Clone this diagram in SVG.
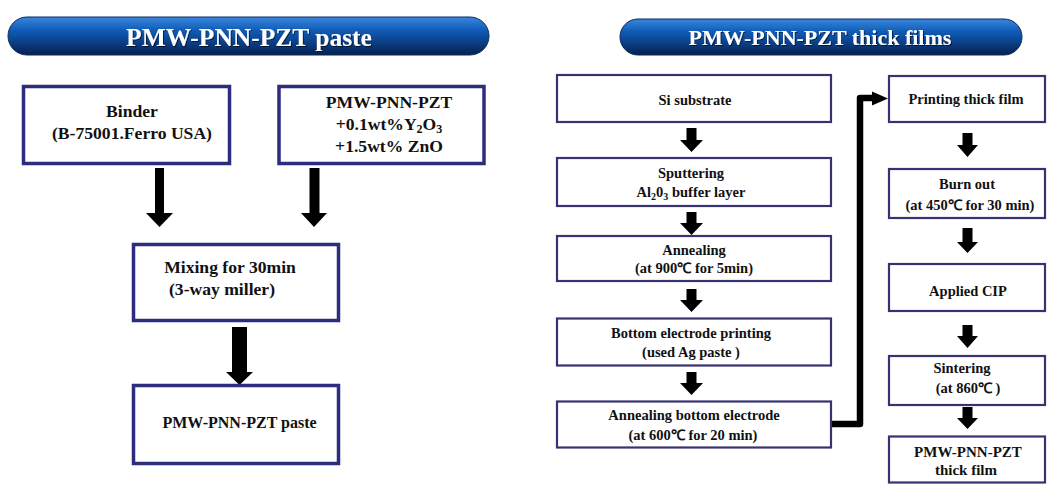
<svg xmlns="http://www.w3.org/2000/svg" width="1058" height="500" viewBox="0 0 1058 500">
<defs>
<linearGradient id="bannerGrad" x1="0" y1="0" x2="0" y2="1">
<stop offset="0" stop-color="#3a86dc"/>
<stop offset="0.35" stop-color="#0f5cb8"/>
<stop offset="1" stop-color="#06204f"/>
</linearGradient>
<filter id="shadow" x="-5%" y="-20%" width="110%" height="140%">
<feDropShadow dx="1" dy="1" stdDeviation="0.6" flood-color="#000" flood-opacity="0.6"/>
</filter>
</defs>
<style>
text{font-family:"Liberation Serif","Times New Roman",serif;font-weight:bold;fill:#111;text-anchor:middle}
.title{fill:#fff;font-size:25.5px}
.banner{fill:url(#bannerGrad);stroke:#0a2a5e;stroke-width:1}
.boxL{fill:#fff;stroke:#2e2c7c;stroke-width:3.5}
.boxR{fill:#fff;stroke:#363370;stroke-width:2.2}
.tl{font-size:17.6px}
.tr{font-size:14.5px}
.arrow{fill:#000}
.conn{fill:none;stroke:#000;stroke-width:6.5;stroke-linejoin:round}
</style>
<rect width="1058" height="500" fill="#fff"/>

<g id="banner-left">
<rect class="banner" x="8" y="17" width="481" height="38" rx="19"/>
<text class="title" x="249" y="46" filter="url(#shadow)">PMW-PNN-PZT paste</text>
</g>
<g id="banner-right">
<rect class="banner" x="620" y="19" width="402" height="36" rx="18"/>
<text class="title" x="820" y="45" style="font-size:22px" filter="url(#shadow)">PMW-PNN-PZT thick films</text>
</g>

<g id="connectors">
<polygon class="arrow" points="155,168 164,168 164,213 173,213 159.5,227 146,213 155,213"/>
<polygon class="arrow" points="309.5,168 319.5,168 319.5,213 327,213 314,227 301,213 309.5,213"/>
<polygon class="arrow" points="232,327 247,327 247,372 253,372 239.5,385 226,372 232,372"/>

<polygon class="arrow" points="686.5,128 696.5,128 696.5,140 703,140 691.5,152 680,140 686.5,140"/>
<polygon class="arrow" points="686.5,212 696.5,212 696.5,223 703,223 691.5,235 680,223 686.5,223"/>
<polygon class="arrow" points="686.5,289 696.5,289 696.5,300 703,300 691.5,312 680,300 686.5,300"/>
<polygon class="arrow" points="686.5,372 696.5,372 696.5,383 703,383 691.5,395 680,383 686.5,383"/>

<polygon class="arrow" points="962.5,133 972.5,133 972.5,145 978,145 967.5,157 957,145 962.5,145"/>
<polygon class="arrow" points="962.5,228 972.5,228 972.5,242 978,242 967.5,253 957,242 962.5,242"/>
<polygon class="arrow" points="962.5,325 972.5,325 972.5,336 978,336 967.5,348 957,336 962.5,336"/>
<polygon class="arrow" points="962.5,407 972.5,407 972.5,418 978,418 967.5,429 957,418 962.5,418"/>

<path class="conn" d="M832,424 H860 V98 H874"/>
<polygon class="arrow" points="872,91.5 888,98.5 872,105.5"/>
</g>

<g id="node-binder">
<rect class="boxL" x="23.5" y="86.5" width="206" height="77"/>
<text class="tl" x="132" y="117">Binder</text>
<text class="tl" x="132" y="139">(B-75001.Ferro USA)</text>
</g>
<g id="node-pmw">
<rect class="boxL" x="279" y="86.5" width="205" height="77"/>
<text class="tl" x="389" y="108">PMW-PNN-PZT</text>
<text class="tl" x="389" y="130">+0.1wt%Y<tspan font-size="12" dy="3">2</tspan><tspan dy="-3">O</tspan><tspan font-size="12" dy="3">3</tspan></text>
<text class="tl" x="389" y="152">+1.5wt% ZnO</text>
</g>
<g id="node-mixing">
<rect class="boxL" x="133.5" y="244.5" width="205" height="76"/>
<text class="tl" x="230" y="273">Mixing for 30min</text>
<text class="tl" x="222" y="295">(3-way miller)</text>
</g>
<g id="node-paste">
<rect class="boxL" x="133.5" y="385.5" width="205" height="78"/>
<text class="tl" x="239.5" y="428" style="font-size:16px">PMW-PNN-PZT paste</text>
</g>

<g id="node-si">
<rect class="boxR" x="557" y="75" width="274" height="47"/>
<text class="tr" x="695" y="105">Si substrate</text>
</g>
<g id="node-sputtering">
<rect class="boxR" x="557" y="158" width="274" height="48"/>
<text class="tr" x="691" y="178">Sputtering</text>
<text class="tr" x="691" y="197">Al<tspan font-size="10" dy="3">2</tspan><tspan dy="-3">0</tspan><tspan font-size="10" dy="3">3</tspan><tspan dy="-3"> buffer layer</tspan></text>
</g>
<g id="node-annealing">
<rect class="boxR" x="557" y="236" width="274" height="45"/>
<text class="tr" x="694" y="255">Annealing</text>
<text class="tr" x="694" y="273">(at  900℃ for 5min)</text>
</g>
<g id="node-bottom-electrode">
<rect class="boxR" x="557" y="318.5" width="274" height="47"/>
<text class="tr" x="691" y="338">Bottom electrode  printing</text>
<text class="tr" x="691" y="357">(used Ag paste )</text>
</g>
<g id="node-annealing-bottom">
<rect class="boxR" x="557" y="401.5" width="274" height="46"/>
<text class="tr" x="694" y="420">Annealing bottom electrode</text>
<text class="tr" x="693" y="440">(at  600℃ for 20 min)</text>
</g>

<g id="node-printing">
<rect class="boxR" x="889" y="76" width="156" height="46"/>
<text class="tr" x="966" y="104">Printing thick film</text>
</g>
<g id="node-burnout">
<rect class="boxR" x="889" y="169" width="156" height="49"/>
<text class="tr" x="967" y="189">Burn out</text>
<text class="tr" x="970" y="210">(at  450℃ for 30 min)</text>
</g>
<g id="node-cip">
<rect class="boxR" x="889" y="264" width="156" height="47"/>
<text class="tr" x="968" y="296">Applied CIP</text>
</g>
<g id="node-sintering">
<rect class="boxR" x="889" y="356" width="156" height="49"/>
<text class="tr" x="962" y="373">Sintering</text>
<text class="tr" x="968" y="393">(at  860℃ )</text>
</g>
<g id="node-final">
<rect class="boxR" x="889" y="436.5" width="156" height="46"/>
<text class="tr" x="968" y="457" style="font-size:15px">PMW-PNN-PZT</text>
<text class="tr" x="966" y="475" style="font-size:15px">thick film</text>
</g>
</svg>
